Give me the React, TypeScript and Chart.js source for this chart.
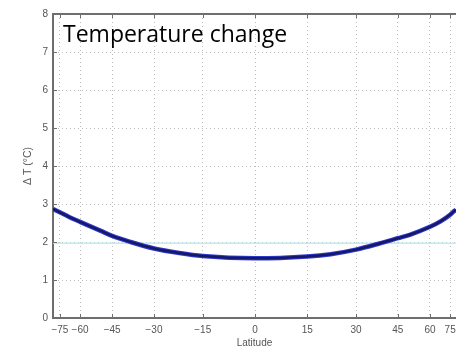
import React, { useEffect, useRef } from "react";
import { Chart, registerables } from "chart.js";

Chart.register(...registerables);

// Latitudes (degrees) of the curve samples and the temperature change (°C)
const latitudes = [-90, -80, -75, -67, -60, -50, -45, -38, -30, -22, -15, 0, 15, 22, 30, 38, 45, 50, 60, 67, 75, 80, 84];
const deltaT = [2.87, 2.83, 2.78, 2.66, 2.53, 2.3, 2.16, 2.0, 1.83, 1.71, 1.63, 1.57, 1.62, 1.68, 1.8, 1.96, 2.1, 2.19, 2.4, 2.55, 2.72, 2.81, 2.85];

// Reference horizontal line
const refLats = [-90, 84];
const refValue = [1.97, 1.97];

// Axis ticks
const xTickLats = [-75, -60, -45, -30, -15, 0, 15, 30, 45, 60, 75];
const xTickLabels = ["−75", "−60", "−45", "−30", "−15", "0", "15", "30", "45", "60", "75"];
const yTicks = [0, 1, 2, 3, 4, 5, 6, 7, 8];

const TITLE = "Temperature change";
const X_TITLE = "Latitude";
const Y_TITLE = "Δ T (°C)";

const toSin = (lat: number) => Math.sin((lat * Math.PI) / 180);

export default function App() {
  const ref = useRef<HTMLCanvasElement | null>(null);

  useEffect(() => {
    if (!ref.current) return;
    const curve = latitudes.map((l, i) => ({ x: toSin(l), y: deltaT[i] }));
    const refLine = refLats.map((l, i) => ({ x: toSin(l), y: refValue[i] }));

    const framePlugin = {
      id: "frame",
      afterDraw(chart: any) {
        const { ctx, chartArea } = chart;
        const xs = chart.scales.x;
        const ys = chart.scales.y;
        ctx.save();
        ctx.strokeStyle = "#6e6e6e";
        ctx.lineWidth = 2;
        ctx.beginPath();
        ctx.moveTo(chartArea.left, chartArea.top);
        ctx.lineTo(chartArea.right, chartArea.top);
        ctx.stroke();
        ctx.lineWidth = 1;
        ctx.beginPath();
        xs.ticks.forEach((t: any) => {
          const px = Math.round(xs.getPixelForValue(t.value)) + 0.5;
          ctx.moveTo(px, chartArea.bottom);
          ctx.lineTo(px, chartArea.bottom - 4);
          ctx.moveTo(px, chartArea.top);
          ctx.lineTo(px, chartArea.top + 4);
        });
        ys.ticks.forEach((t: any) => {
          const py = Math.round(ys.getPixelForValue(t.value)) + 0.5;
          ctx.moveTo(chartArea.left, py);
          ctx.lineTo(chartArea.left + 4, py);
        });
        ctx.stroke();
        ctx.fillStyle = "#000";
        ctx.font = "23px 'Open Sans'";
        ctx.textBaseline = "alphabetic";
        ctx.textAlign = "left";
        ctx.fillText(TITLE, chartArea.left + 10, 42);
        ctx.restore();
      },
    };

    const chart = new Chart(ref.current, {
      type: "line",
      data: {
        datasets: [
          {
            data: curve,
            borderColor: "#17176a",
            borderWidth: 2.5,
            pointRadius: 0,
            cubicInterpolationMode: "monotone",
            order: 0,
          },
          {
            data: curve,
            borderColor: "#2e3acb",
            borderWidth: 4.5,
            pointRadius: 0,
            cubicInterpolationMode: "monotone",
            order: 1,
          },
          {
            data: refLine,
            borderColor: "rgba(175,236,246,0.85)",
            borderWidth: 1.5,
            pointRadius: 0,
            order: 2,
          },
        ],
      },
      options: {
        responsive: false,
        animation: false,
        layout: { padding: { top: 14, left: 0, right: 0, bottom: 0 } },
        plugins: { legend: { display: false }, tooltip: { enabled: false } },
        scales: {
          x: {
            type: "linear",
            min: -1,
            max: 0.995,
            afterBuildTicks: (scale: any) => {
              scale.ticks = xTickLats.map((l) => ({ value: toSin(l) }));
            },
            afterFit: (scale: any) => {
              scale.height = 33;
              scale.paddingLeft = 0;
              scale.paddingRight = 0;
            },
            ticks: {
              autoSkip: false,
              maxRotation: 0,
              minRotation: 0,
              padding: 6,
              color: "#555",
              font: { family: "'Liberation Sans'", size: 10 },
              callback: (_v: any, i: number) => xTickLabels[i],
            },
            grid: {
              drawTicks: false,
              color: "#bdbdbd",
              lineWidth: 1,
            },
            border: { display: true, color: "#6e6e6e", width: 2, dash: [1, 3] },
            title: {
              display: true,
              text: X_TITLE,
              color: "#555",
              font: { family: "'Liberation Sans'", size: 10 },
              padding: { top: 0, bottom: 2 },
            },
          },
          y: {
            type: "linear",
            min: 0,
            max: 8,
            afterBuildTicks: (scale: any) => {
              scale.ticks = yTicks.map((v) => ({ value: v }));
            },
            afterFit: (scale: any) => {
              scale.width = 53;
            },
            ticks: {
              padding: 5,
              color: "#555",
              font: { family: "'Liberation Sans'", size: 10 },
            },
            grid: {
              drawTicks: false,
              color: "#bdbdbd",
              lineWidth: 1,
            },
            border: { display: true, color: "#6e6e6e", width: 2, dash: [1, 3] },
            title: {
              display: true,
              text: Y_TITLE,
              color: "#555",
              font: { family: "'Liberation Sans'", size: 10.5 },
              padding: { top: 22, bottom: 0 },
            },
          },
        },
      },
      plugins: [framePlugin],
    } as any);

    return () => chart.destroy();
  }, []);

  return (
    <div style={{ position: "absolute", left: 0, top: 0, width: 456, height: 351, background: "#fff" }}>
      <canvas ref={ref} width={456} height={351} style={{ width: 456, height: 351, display: "block" }} />
    </div>
  );
}
